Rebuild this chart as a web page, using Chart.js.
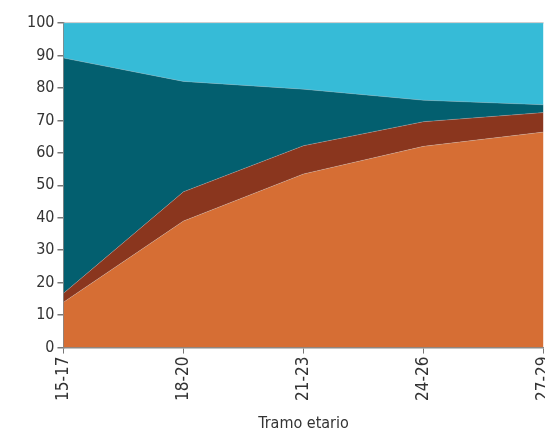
<!DOCTYPE html>
<html>
<head>
<meta charset="utf-8">
<script src="https://cdn.jsdelivr.net/npm/chart.js@4/dist/chart.umd.min.js"></script>
<style>
html,body{margin:0;padding:0;background:#fff;overflow:hidden;width:545px;height:432px;}
#wrap{position:relative;width:567px;height:432px;}
</style>
</head>
<body>
<div id="wrap"><canvas id="c" width="567" height="432"></canvas></div>
<script>
const categories = ['15-17', '18-20', '21-23', '24-26', '27-29'];
const serieNaranja = [14, 39, 53.5, 62, 66.4];
const serieMarron = [2.7, 9, 8.7, 7.6, 6];
const serieAzulOscuro = [72.5, 34, 17.4, 6.6, 2.4];
const serieCeleste = [10.8, 18, 20.4, 23.8, 25.2];
const yTicks = [0, 10, 20, 30, 40, 50, 60, 70, 80, 90, 100];
const axisTitle = 'Tramo etario';

const FONT = "'DejaVu Sans Condensed', 'Liberation Sans Narrow', sans-serif";
const sep = 'rgba(190,215,225,0.45)';
function ds(data, color, fill) {
  return {data, backgroundColor: color, borderColor: sep, borderWidth: 0.6,
    fill, pointRadius: 0, tension: 0};
}
new Chart(document.getElementById('c'), {
  type: 'line',
  data: {
    labels: categories,
    datasets: [
      ds(serieNaranja, '#D66E34', 'origin'),
      ds(serieMarron, '#8A361E', '-1'),
      ds(serieAzulOscuro, '#035F6F', '-1'),
      ds(serieCeleste, '#36BBD7', '-1')
    ]
  },
  options: {
    responsive: false,
    animation: false,
    layout: {padding: {top: 23, left: 24, right: 0, bottom: 0}},
    plugins: {legend: {display: false}, tooltip: {enabled: false}},
    scales: {
      x: {
        type: 'category',
        offset: false,
        grid: {drawOnChartArea: false, drawTicks: true, tickLength: 6, tickColor: '#777'},
        border: {color: '#888', width: 1.5},
        ticks: {maxRotation: 90, minRotation: 90, color: '#333', font: {family: FONT, size: 17}, padding: 3, autoSkip: false},
        title: {display: true, text: axisTitle, color: '#333', font: {family: FONT, size: 16, lineHeight: 1}, padding: {top: 12, bottom: 0}}
      },
      y: {
        stacked: true,
        min: 0, max: 100,
        afterBuildTicks: (s) => { s.ticks = yTicks.map(v => ({value: v})); },
        grid: {
          drawOnChartArea: true,
          color: (c) => (c.tick && c.tick.value === 100) ? '#cfcfcf' : 'transparent',
          tickColor: '#777', tickLength: 6, lineWidth: 1.5
        },
        border: {color: '#888', width: 1.5},
        ticks: {color: '#333', font: {family: FONT, size: 16}, padding: 3}
      }
    }
  }
});
</script>
</body>
</html>
